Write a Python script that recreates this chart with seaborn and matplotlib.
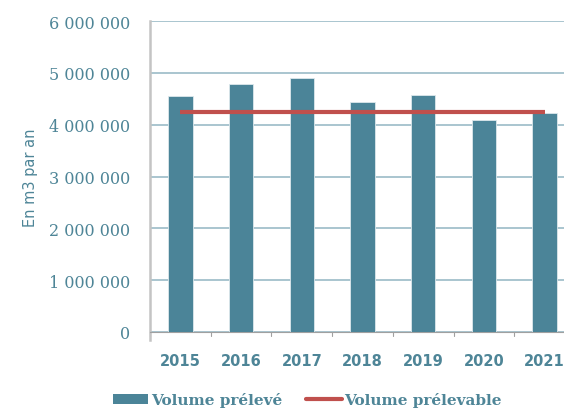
import matplotlib
matplotlib.use("Agg")
import matplotlib.pyplot as plt
import seaborn as sns
import pandas as pd
from matplotlib.ticker import FuncFormatter
from matplotlib.patches import Patch
from matplotlib.lines import Line2D

# données
annees = ["2015", "2016", "2017", "2018", "2019", "2020", "2021"]
volume_preleve = [4550000, 4790000, 4900000, 4445000, 4575000, 4085000, 4230000]
volume_prelevable = [4240000, 4240000, 4240000, 4240000, 4240000, 4240000, 4240000]

BLEU = "#4B8498"
ROUGE = "#C0504D"
TEXTE = "#4E8597"

sns.set_style("white")
plt.rcParams['font.family'] = ['DejaVu Sans']

df = pd.DataFrame({"annee": annees, "preleve": volume_preleve, "prelevable": volume_prelevable})

fig = plt.figure(figsize=(5.64, 4.10), dpi=100)
ax = fig.add_axes([0.266, 0.188, 0.734, 0.758])

sns.barplot(data=df, x="annee", y="preleve", color=BLEU, width=0.4,
            edgecolor="#DDE8EC", linewidth=0.6, saturation=1, ax=ax, zorder=3)
ax.plot(range(len(annees)), df["prelevable"], color=ROUGE, linewidth=3,
        solid_capstyle="butt", zorder=4)

ax.set_ylim(0, 6000000)
ax.set_xlim(-0.5, 6.32)
ax.set_yticks(range(0, 6000001, 1000000))
ax.yaxis.set_major_formatter(FuncFormatter(lambda v, p: f"{int(v):,}".replace(",", " ")))
ax.grid(axis="y", color="#A9C5CF", linewidth=1.4, zorder=0)
ax.set_axisbelow(True)

for s in ["top", "right"]:
    ax.spines[s].set_visible(False)
ax.spines["left"].set_color("#C4C4C4")
ax.spines["left"].set_linewidth(1.8)
ax.spines["left"].set_bounds(-150000, 6000000)
ax.spines["bottom"].set_color("#A0A0A0")

ax.tick_params(axis="y", length=0, pad=14, labelcolor=TEXTE)
for lab in ax.get_yticklabels():
    lab.set_family("DejaVu Serif")
    lab.set_fontsize(11.5)
ax.set_xticks(range(len(annees)))
ax.set_xticklabels(annees, fontsize=10.5, fontweight="bold", color=TEXTE)
ax.tick_params(axis="x", length=0, pad=15)
# petites graduations entre les catégories
for xb in [i - 0.5 for i in range(len(annees) + 1)]:
    ax.plot([xb, xb], [0, -80000], color="#A0A0A0", linewidth=0.8, clip_on=False)

ax.set_xlabel("")
ax.set_ylabel("En m3 par an", fontsize=10.5, color=TEXTE, labelpad=8)

handles = [Patch(facecolor=BLEU, edgecolor="none"),
           Line2D([0], [0], color=ROUGE, linewidth=3)]
leg = fig.legend(handles, ["Volume prélevé", "Volume prélevable"], loc="center",
                 bbox_to_anchor=(0.545, 0.022), ncol=2, frameon=False,
                 prop={"family": "DejaVu Serif", "weight": "bold", "size": 11},
                 handlelength=2.3, handletextpad=0.15, columnspacing=1.6)
for t in leg.get_texts():
    t.set_color(TEXTE)

fig.savefig("out.png", dpi=100)
